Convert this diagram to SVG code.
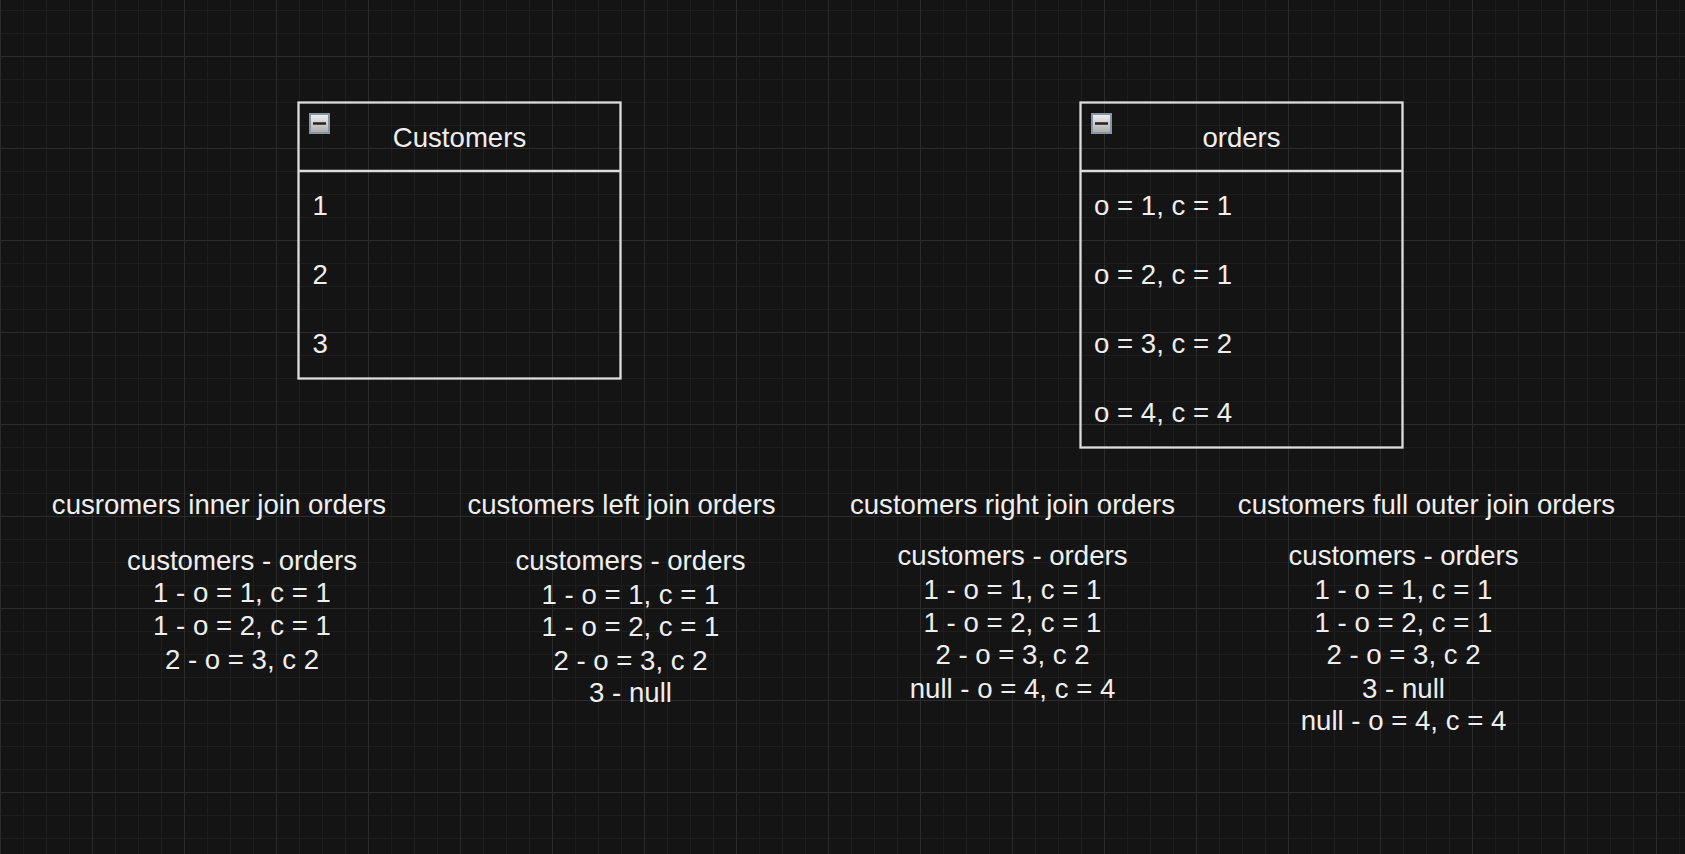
<svg xmlns="http://www.w3.org/2000/svg" width="1685" height="854" viewBox="0 0 1685 854">
<defs>
<pattern id="minor" x="0" y="10" width="23" height="23" patternUnits="userSpaceOnUse">
<path d="M0.5 0V23M0 0.5H23" stroke="#1e1e1e" stroke-width="1" fill="none"/>
</pattern>
<pattern id="major" x="0" y="56" width="92" height="92" patternUnits="userSpaceOnUse">
<path d="M0.5 0V92M0 0.5H92" stroke="#2c2c2c" stroke-width="1" fill="none"/>
</pattern>
<linearGradient id="ig" x1="0" y1="0" x2="0" y2="1">
<stop offset="0" stop-color="#f2f2f2"/>
<stop offset="1" stop-color="#a9a9a9"/>
</linearGradient>
</defs>
<style>
.t{font-family:"Liberation Sans",Arial,sans-serif;font-size:27.6px;fill:#eeeeee}
.m{text-anchor:middle}
.box{fill:none;stroke:#dcdcdc;stroke-width:2.3}
.icon{fill:url(#ig);stroke:#8b93a6;stroke-width:2}
.bar{stroke:#222;stroke-width:2.5}
</style>
<rect width="1685" height="854" fill="#141414"/>
<rect width="1685" height="854" fill="url(#minor)"/>
<rect width="1685" height="854" fill="url(#major)"/>
<g id="customers">
<rect class="box" x="298.5" y="102.5" width="322" height="276"/>
<line class="box" x1="298.5" y1="171" x2="620.5" y2="171"/>
<rect class="icon" x="310" y="114" width="19" height="19"/>
<line class="bar" x1="313" y1="123.5" x2="326" y2="123.5"/>
<text class="t m" x="459.5" y="146.5">Customers</text>
<text class="t" x="312.5" y="215">1</text>
<text class="t" x="312.5" y="284">2</text>
<text class="t" x="312.5" y="353">3</text>
</g>
<g id="orders">
<rect class="box" x="1080.5" y="102.5" width="322" height="345"/>
<line class="box" x1="1080.5" y1="171" x2="1402.5" y2="171"/>
<rect class="icon" x="1092" y="114" width="19" height="19"/>
<line class="bar" x1="1095" y1="123.5" x2="1108" y2="123.5"/>
<text class="t m" x="1241.5" y="146.5">orders</text>
<text class="t" x="1094" y="215">o = 1, c = 1</text>
<text class="t" x="1094" y="284">o = 2, c = 1</text>
<text class="t" x="1094" y="353">o = 3, c = 2</text>
<text class="t" x="1094" y="422">o = 4, c = 4</text>
</g>
<g id="inner-join">
<text class="t m" x="219" y="513.5">cusromers inner join orders</text>
<text class="t m" x="242" y="569.5">customers - orders</text>
<text class="t m" x="242" y="601.5">1 - o = 1, c = 1</text>
<text class="t m" x="242" y="635">1 - o = 2, c = 1</text>
<text class="t m" x="242" y="668.5">2 - o = 3, c 2</text>
</g>
<g id="left-join">
<text class="t m" x="621.5" y="513.5">customers left join orders</text>
<text class="t m" x="630.5" y="569.5">customers - orders</text>
<text class="t m" x="630.5" y="603.5">1 - o = 1, c = 1</text>
<text class="t m" x="630.5" y="635.5">1 - o = 2, c = 1</text>
<text class="t m" x="630.5" y="670">2 - o = 3, c 2</text>
<text class="t m" x="630.5" y="701.5">3 - null</text>
</g>
<g id="right-join">
<text class="t m" x="1012.5" y="513.5">customers right join orders</text>
<text class="t m" x="1012.5" y="564.5">customers - orders</text>
<text class="t m" x="1012.5" y="598.5">1 - o = 1, c = 1</text>
<text class="t m" x="1012.5" y="631.5">1 - o = 2, c = 1</text>
<text class="t m" x="1012.5" y="663.5">2 - o = 3, c 2</text>
<text class="t m" x="1012.5" y="697.5">null - o = 4, c = 4</text>
</g>
<g id="full-outer-join">
<text class="t m" x="1426.5" y="513.5">customers full outer join orders</text>
<text class="t m" x="1403.5" y="564.5">customers - orders</text>
<text class="t m" x="1403.5" y="598.5">1 - o = 1, c = 1</text>
<text class="t m" x="1403.5" y="631.5">1 - o = 2, c = 1</text>
<text class="t m" x="1403.5" y="663.5">2 - o = 3, c 2</text>
<text class="t m" x="1403.5" y="697.5">3 - null</text>
<text class="t m" x="1403.5" y="730">null - o = 4, c = 4</text>
</g>
<g id="connectors"/>
</svg>
